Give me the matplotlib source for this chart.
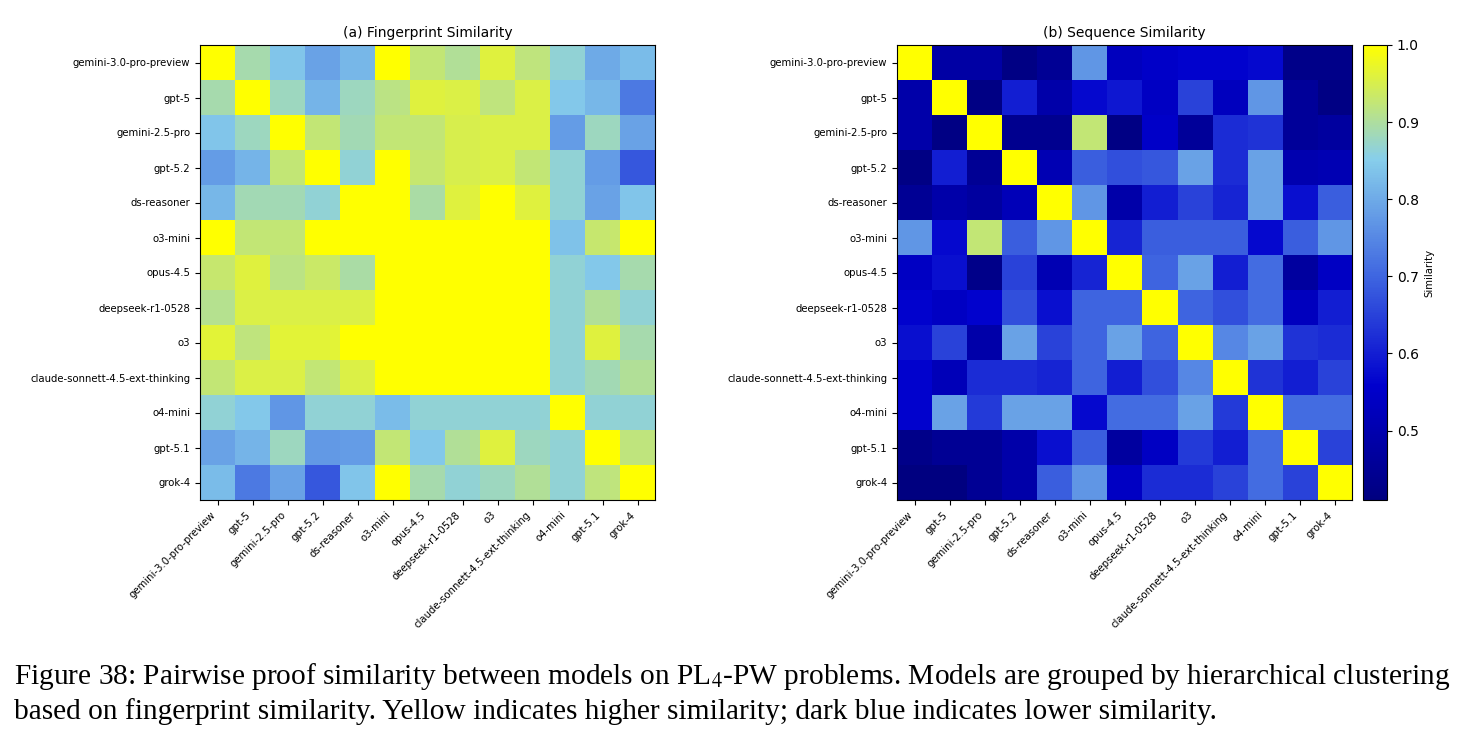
import matplotlib
matplotlib.use("Agg")
import matplotlib.pyplot as plt
import numpy as np
from matplotlib.colors import LinearSegmentedColormap

# Data
models = ['gemini-3.0-pro-preview', 'gpt-5', 'gemini-2.5-pro', 'gpt-5.2', 'ds-reasoner',
          'o3-mini', 'opus-4.5', 'deepseek-r1-0528', 'o3', 'claude-sonnett-4.5-ext-thinking',
          'o4-mini', 'gpt-5.1', 'grok-4']

fingerprint = [
    [1.00, 0.89, 0.84, 0.79, 0.82, 1.00, 0.925, 0.905, 0.96, 0.92, 0.865, 0.80, 0.825],
    [0.89, 1.00, 0.88, 0.815, 0.88, 0.915, 0.96, 0.955, 0.92, 0.955, 0.845, 0.82, 0.73],
    [0.84, 0.88, 1.00, 0.925, 0.885, 0.925, 0.925, 0.95, 0.955, 0.955, 0.78, 0.88, 0.79],
    [0.78, 0.815, 0.925, 1.00, 0.865, 1.00, 0.93, 0.95, 0.955, 0.925, 0.865, 0.78, 0.68],
    [0.82, 0.885, 0.885, 0.865, 1.00, 1.00, 0.895, 0.96, 1.00, 0.96, 0.865, 0.79, 0.84],
    [1.00, 0.925, 0.925, 1.00, 1.00, 1.00, 1.00, 1.00, 1.00, 1.00, 0.835, 0.93, 1.00],
    [0.93, 0.96, 0.915, 0.935, 0.895, 1.00, 1.00, 1.00, 1.00, 1.00, 0.865, 0.845, 0.89],
    [0.91, 0.955, 0.955, 0.955, 0.955, 1.00, 1.00, 1.00, 1.00, 1.00, 0.865, 0.905, 0.865],
    [0.965, 0.92, 0.965, 0.965, 1.00, 1.00, 1.00, 1.00, 1.00, 1.00, 0.865, 0.96, 0.89],
    [0.925, 0.955, 0.955, 0.925, 0.955, 1.00, 1.00, 1.00, 1.00, 1.00, 0.865, 0.885, 0.905],
    [0.865, 0.845, 0.77, 0.865, 0.865, 0.825, 0.865, 0.865, 0.865, 0.865, 1.00, 0.865, 0.865],
    [0.79, 0.815, 0.88, 0.775, 0.78, 0.925, 0.845, 0.905, 0.96, 0.88, 0.865, 1.00, 0.92],
    [0.825, 0.73, 0.79, 0.68, 0.84, 1.00, 0.89, 0.865, 0.88, 0.905, 0.865, 0.92, 1.00],
]

sequence = [
    [1.00, 0.48, 0.48, 0.42, 0.45, 0.77, 0.53, 0.55, 0.56, 0.56, 0.57, 0.43, 0.43],
    [0.49, 1.00, 0.42, 0.60, 0.49, 0.57, 0.59, 0.54, 0.65, 0.53, 0.77, 0.46, 0.42],
    [0.49, 0.42, 1.00, 0.44, 0.44, 0.925, 0.42, 0.55, 0.46, 0.62, 0.63, 0.46, 0.47],
    [0.42, 0.60, 0.45, 1.00, 0.51, 0.69, 0.67, 0.68, 0.79, 0.62, 0.79, 0.50, 0.51],
    [0.45, 0.49, 0.47, 0.52, 1.00, 0.77, 0.49, 0.60, 0.65, 0.61, 0.79, 0.58, 0.69],
    [0.77, 0.57, 0.925, 0.69, 0.77, 1.00, 0.61, 0.69, 0.69, 0.69, 0.57, 0.69, 0.77],
    [0.54, 0.58, 0.43, 0.65, 0.51, 0.61, 1.00, 0.70, 0.79, 0.60, 0.71, 0.47, 0.54],
    [0.56, 0.54, 0.56, 0.67, 0.58, 0.70, 0.70, 1.00, 0.70, 0.67, 0.71, 0.53, 0.60],
    [0.58, 0.65, 0.49, 0.79, 0.65, 0.70, 0.79, 0.70, 1.00, 0.75, 0.79, 0.63, 0.62],
    [0.56, 0.52, 0.62, 0.62, 0.61, 0.70, 0.60, 0.67, 0.75, 1.00, 0.63, 0.60, 0.65],
    [0.56, 0.79, 0.64, 0.79, 0.79, 0.57, 0.71, 0.71, 0.79, 0.64, 1.00, 0.71, 0.71],
    [0.43, 0.45, 0.45, 0.49, 0.58, 0.69, 0.47, 0.54, 0.64, 0.60, 0.71, 1.00, 0.65],
    [0.41, 0.41, 0.45, 0.49, 0.69, 0.77, 0.54, 0.62, 0.62, 0.65, 0.71, 0.65, 1.00],
]

cbar_ticks = [0.5, 0.6, 0.7, 0.8, 0.9, 1.0]

caption = ("Figure 38: Pairwise proof similarity between models on PL$_4$-PW problems. "
           "Models are grouped by hierarchical clustering\n"
           "based on fingerprint similarity. Yellow indicates higher similarity; "
           "dark blue indicates lower similarity.")

plt.rcParams['mathtext.fontset'] = 'stix'

cmap = LinearSegmentedColormap.from_list(
    'sim', ['#000080', '#0000cd', '#4169e1', '#87ceeb', '#ffff00'])
vmin = min(np.min(fingerprint), np.min(sequence))
vmax = 1.0

W, H = 1465, 744
fig = plt.figure(figsize=(W / 100, H / 100), dpi=100)

ax1 = fig.add_axes([200 / W, 1 - 500 / H, 455 / W, 455 / H])
ax2 = fig.add_axes([897 / W, 1 - 500 / H, 455 / W, 455 / H])
cax = fig.add_axes([1363 / W, 1 - 500 / H, 24 / W, 455 / H])

for ax, mat, title in [(ax1, fingerprint, '(a) Fingerprint Similarity'),
                       (ax2, sequence, '(b) Sequence Similarity')]:
    im = ax.imshow(np.array(mat), cmap=cmap, vmin=vmin, vmax=vmax, aspect='auto')
    ax.set_xticks(range(len(models)))
    ax.set_yticks(range(len(models)))
    ax.set_xticklabels(models, rotation=45, ha='right', fontsize=7.3)
    ax.set_yticklabels(models, fontsize=7.3)
    ax.set_title(title, fontsize=10, pad=6)

cb = fig.colorbar(im, cax=cax)
cb.set_ticks(cbar_ticks)
cb.ax.tick_params(labelsize=10)
cb.set_label('Similarity', fontsize=7.3)

fig.text(14 / W, 1 - 661 / H, caption, fontsize=21.2, family='Liberation Serif',
         va='top', ha='left', linespacing=1.3)

fig.savefig('out.png', dpi=100)
